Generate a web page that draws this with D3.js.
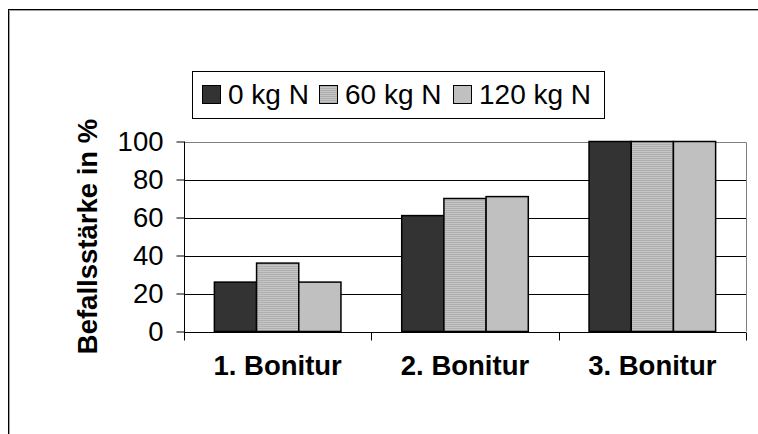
<!DOCTYPE html>
<html>
<head>
<meta charset="utf-8">
<script src="https://cdn.jsdelivr.net/npm/d3@7"></script>
<style>
  body { margin: 0; background: #fff; }
  svg { display: block; font-family: Arial, "Liberation Sans", sans-serif; }
</style>
</head>
<body>
<div class="chart-container"></div>
<script>
var categories = ['1. Bonitur', '2. Bonitur', '3. Bonitur'];
var seriesNames = ['0 kg N', '60 kg N', '120 kg N'];
var values0 = [26, 61, 100];
var values60 = [36, 70, 100];
var values120 = [26, 71, 100];
var yTicks = [0, 20, 40, 60, 80, 100];
var yTitle = 'Befallsstärke in %';

var W = 758, H = 434;
var margin = {top: 141.5, right: 12, bottom: 102.5, left: 184};
var width = W - margin.left - margin.right;
var height = H - margin.top - margin.bottom;

var series = [values0, values60, values120];
var fills = ['#333333', 'url(#stripes)', '#c0c0c0'];

var svg = d3.select('.chart-container').append('svg')
  .attr('width', W)
  .attr('height', H);

var defs = svg.append('defs');
var pat = defs.append('pattern')
  .attr('id', 'stripes')
  .attr('patternUnits', 'userSpaceOnUse')
  .attr('width', 4).attr('height', 2);
pat.append('rect').attr('width', 4).attr('height', 2).attr('fill', '#c6c6c6');
pat.append('rect').attr('width', 4).attr('height', 1).attr('fill', '#aeaeae');

// outer frame (runs off the picture at right and bottom)
svg.append('rect')
  .attr('x', 8.5).attr('y', 9.5)
  .attr('width', W + 20).attr('height', H + 20)
  .style('fill', 'none').style('stroke', '#000');
svg.append('path')
  .attr('d', `M9.5,${H}V10.5H${W}`)
  .style('fill', 'none').style('stroke', '#a0a0a0');

var x = d3.scaleBand()
  .domain(categories)
  .range([margin.left, margin.left + width]);

var xSub = d3.scaleBand()
  .domain(d3.range(series.length))
  .range([0, x.bandwidth()])
  .paddingOuter(0.72)
  .paddingInner(0);

var y = d3.scaleLinear()
  .domain([0, 100])
  .range([margin.top + height, margin.top]);

// grid lines
svg.append('g')
  .selectAll('line')
  .data(yTicks.filter(d => d > 0 && d < 100))
  .enter().append('line')
    .attr('x1', margin.left).attr('x2', margin.left + width)
    .attr('y1', d => Math.round(y(d)) + 0.5).attr('y2', d => Math.round(y(d)) + 0.5)
    .style('stroke', '#000');

// plot border top / right
svg.append('path')
  .attr('d', `M${margin.left},${Math.round(y(100)) + 0.5}H${margin.left + width + 0.5}V${y(0)}`)
  .style('fill', 'none').style('stroke', '#808080');

// bars
categories.forEach(function(cat, ci) {
  svg.append('g')
    .selectAll('rect')
    .data(series.map((s, si) => ({si: si, v: s[ci]})))
    .enter().append('rect')
      .attr('x', d => x(cat) + xSub(d.si))
      .attr('y', d => y(d.v))
      .attr('width', xSub.bandwidth())
      .attr('height', d => y(0) - y(d.v))
      .style('fill', d => fills[d.si])
      .style('stroke', '#000')
      .style('stroke-width', 1.5);
});

var yAxis = d3.axisLeft(y)
  .tickValues(yTicks)
  .tickSize(8)
  .tickPadding(13);

var gY = svg.append('g')
  .attr('transform', `translate(${margin.left + 0.5},0)`)
  .call(yAxis);
gY.select('.domain').attr('d', `M0,${y(100)}V${y(0) + 8}`).style('stroke', '#000');
gY.selectAll('.tick line').style('stroke', '#000');
gY.selectAll('.tick text')
  .style('font-size', '27.5px')
  .style('font-family', 'Arial, "Liberation Sans", sans-serif')
  .style('fill', '#000');

var xAxis = d3.axisBottom(x).tickSize(0).tickPadding(23);
var gX = svg.append('g')
  .attr('transform', `translate(0,${Math.round(y(0)) + 0.5})`)
  .call(xAxis);
gX.select('.domain').attr('d', `M${margin.left},0H${margin.left + width}`).style('stroke', '#000');
gX.selectAll('.tick text')
  .attr('dy', '0.71em')
  .style('font-size', '27.5px')
  .style('font-weight', 'bold')
  .style('font-family', 'Arial, "Liberation Sans", sans-serif')
  .style('fill', '#000');

// category separators below axis
gX.append('g')
  .selectAll('line')
  .data(categories.map(c => x(c)).concat([margin.left + width]))
  .enter().append('line')
    .attr('x1', d => Math.round(d) + 0.5).attr('x2', d => Math.round(d) + 0.5)
    .attr('y1', 0).attr('y2', 8)
    .style('stroke', '#000');

// y title
svg.append('text')
  .attr('transform', `translate(97,${(y(0) + y(100)) / 2}) rotate(-90)`)
  .attr('text-anchor', 'middle')
  .style('font-size', '27.5px')
  .style('font-weight', 'bold')
  .text(yTitle);

// legend
var legend = svg.append('g');
legend.append('rect')
  .attr('x', 192.5).attr('y', 71.5)
  .attr('width', 412).attr('height', 47)
  .style('fill', '#fff').style('stroke', '#000');

var legendX = [202, 319, 453];
seriesNames.forEach(function(name, i) {
  legend.append('rect')
    .attr('x', legendX[i] + 0.5).attr('y', 85.5)
    .attr('width', 18).attr('height', 18)
    .style('fill', fills[i])
    .style('stroke', '#000');
  legend.append('text')
    .attr('x', legendX[i] + 26)
    .attr('y', 104)
    .style('font-size', '28px')
    .text(name);
});
</script>
</body>
</html>
